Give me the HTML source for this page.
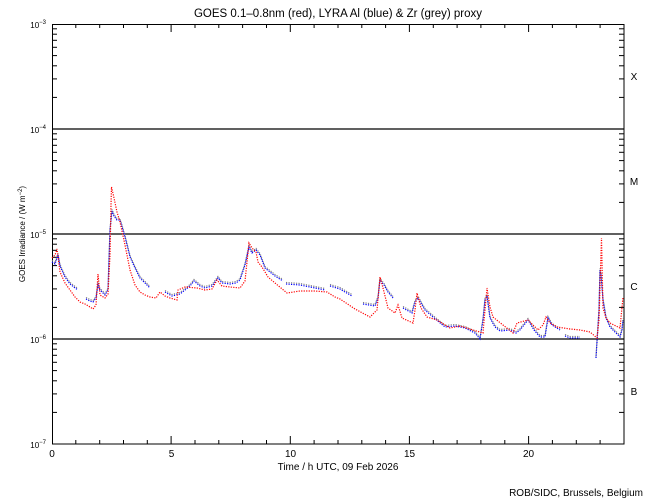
<!DOCTYPE html>
<html><head><meta charset="utf-8"><style>
body{margin:0;background:#fff}
svg{display:block;font-family:"Liberation Sans",sans-serif}
</style></head><body>
<svg id="s" width="650" height="500" viewBox="0 0 650 500" xmlns="http://www.w3.org/2000/svg">
<rect width="650" height="500" fill="#fff"/>
<text x="338" y="17" font-size="11.5" text-anchor="middle">GOES 0.1–0.8nm (red), LYRA Al (blue) &amp; Zr (grey) proxy</text>
<g font-size="10" text-anchor="middle">
<text x="52" y="457">0</text><text x="171.5" y="457">5</text><text x="290.5" y="457">10</text><text x="409.5" y="457">15</text><text x="528.5" y="457">20</text>
<text x="338" y="470">Time / h UTC, 09 Feb 2026</text>
</g>
<text x="643" y="496" font-size="10" text-anchor="end">ROB/SIDC, Brussels, Belgium</text>
<g font-size="10" text-anchor="middle"><text x="634" y="80">X</text><text x="634" y="185">M</text><text x="634" y="290">C</text><text x="634" y="395">B</text></g>
<g font-size="8" text-anchor="end">
<text x="46" y="28">10<tspan dy="-4" font-size="6">−3</tspan></text>
<text x="46" y="133">10<tspan dy="-4" font-size="6">−4</tspan></text>
<text x="46" y="238">10<tspan dy="-4" font-size="6">−5</tspan></text>
<text x="46" y="343">10<tspan dy="-4" font-size="6">−6</tspan></text>
<text x="46" y="448">10<tspan dy="-4" font-size="6">−7</tspan></text>
</g>
<text transform="translate(25,234) rotate(-90)" font-size="8" text-anchor="middle">GOES Irradiance / (W m<tspan dy="-3" font-size="6">−2</tspan><tspan dy="3">)</tspan></text>
<g stroke="#000" stroke-width="1.2">
<line x1="52" y1="129" x2="624" y2="129"/><line x1="52" y1="234" x2="624" y2="234"/><line x1="52" y1="339" x2="624" y2="339"/>
</g>
<rect x="52.5" y="24.5" width="571.5" height="419.5" fill="none" stroke="#000" stroke-width="1"/>
<g id="ticks" stroke="#000" stroke-width="1"></g>
<g id="data" fill="none" stroke-width="1.2" stroke-dasharray="1.2 1.3"></g>
</svg>
<script>
var t=document.getElementById('ticks'),h='';
for(var d=0;d<4;d++){var base=444-105*d;for(var k=2;k<=9;k++){var y=(base-105*Math.log10(k)).toFixed(1);h+='<line x1="52" y1="'+y+'" x2="57" y2="'+y+'"/><line x1="619" y1="'+y+'" x2="624" y2="'+y+'"/>';}}
for(var i=1;i<24;i++){var x=(52+i*23.83).toFixed(1),L=i%5==0?8:4;h+='<line x1="'+x+'" y1="444" x2="'+x+'" y2="'+(444-L)+'"/><line x1="'+x+'" y1="24" x2="'+x+'" y2="'+(24+L)+'"/>';}
t.innerHTML=h;
var red=[[52,258],[55,255],[57,249],[60,272],[65,283],[70,290],[75,297],[80,302],[85,304],[90,307],[93,309],[96,305],[98,274],[100,295],[105,298],[108,294],[110,255],[111,205],[111.5,187],[114,198],[117,212],[120,222],[125,245],[130,270],[135,285],[140,292],[145,295],[150,297],[156,298],[160,292],[165,296],[170,298],[177,300],[178,290],[185,287],[197,288],[205,290],[212,289],[217,280],[222,286],[230,287],[240,288],[245,281],[249,243],[252,248],[256,252],[258,262],[262,267],[268,277],[275,283],[287,293],[300,291],[315,291],[327,292],[335,297],[340,299],[343,301],[355,309],[370,317],[377,310],[380,277],[383,288],[388,308],[395,313],[398,305],[402,318],[413,323],[415,310],[417,293],[421,308],[427,317],[437,320],[450,328],[460,326],[473,330],[483,333],[485,310],[487,288],[490,307],[493,317],[503,325],[513,333],[517,323],[528,320],[538,330],[543,325],[546,317],[550,323],[557,327],[570,329],[580,330],[590,332],[597,338],[599,320],[600,288],[601.5,238],[603,308],[606,318],[610,323],[620,328],[623,297]];
var blue=[[52,262],[55,264],[58,255],[60,266],[65,277],[70,284],[75,288],[78,290],null,[86,299],[90,301],[93,302],[96,298],[98,285],[100,290],[105,295],[108,290],[110,230],[112,211],[114,216],[117,220],[120,220],[125,237],[130,257],[135,268],[140,278],[145,283],[150,288],null,[165,292],[172,296],[180,294],[190,286],[194,281],[200,286],[205,288],[212,286],[218,278],[222,283],[230,284],[236,283],[240,280],[245,265],[249,247],[252,253],[256,250],[260,255],[265,268],[275,276],[283,281],null,[286,284],[300,285],[315,288],[325,290],null,[330,286],[340,289],[345,292],[352,296],null,[363,304],[375,306],[378,298],[380,280],[384,285],[388,292],[393,298],null,[403,308],[412,313],[415,302],[418,298],[425,310],[433,317],[445,327],[455,326],[465,328],[475,333],[480,339],[483,320],[485,300],[487,296],[490,318],[495,327],[500,331],[510,330],[516,333],[520,330],[528,320],[534,330],[540,337],[545,337],[548,318],[552,325],[560,330],null,[565,336],[570,338],[580,338],null,[596,358],[599,310],[600,270],[601,275],[603,300],[606,318],[610,327],[620,337],[622,330],[623,320]];
function path(p,dy){var s='',m=true;p.forEach(function(q){if(!q){m=true;return;}s+=(m?'M':'L')+q[0]+' '+(q[1]+dy)+' ';m=false;});return s;}
document.getElementById('data').innerHTML='<path d="'+path(blue,-1.5)+'" stroke="#808080"/><path d="'+path(blue,0)+'" stroke="#0000ff"/><path d="'+path(red,0)+'" stroke="#ff0000"/>';
</script>
</body></html>
